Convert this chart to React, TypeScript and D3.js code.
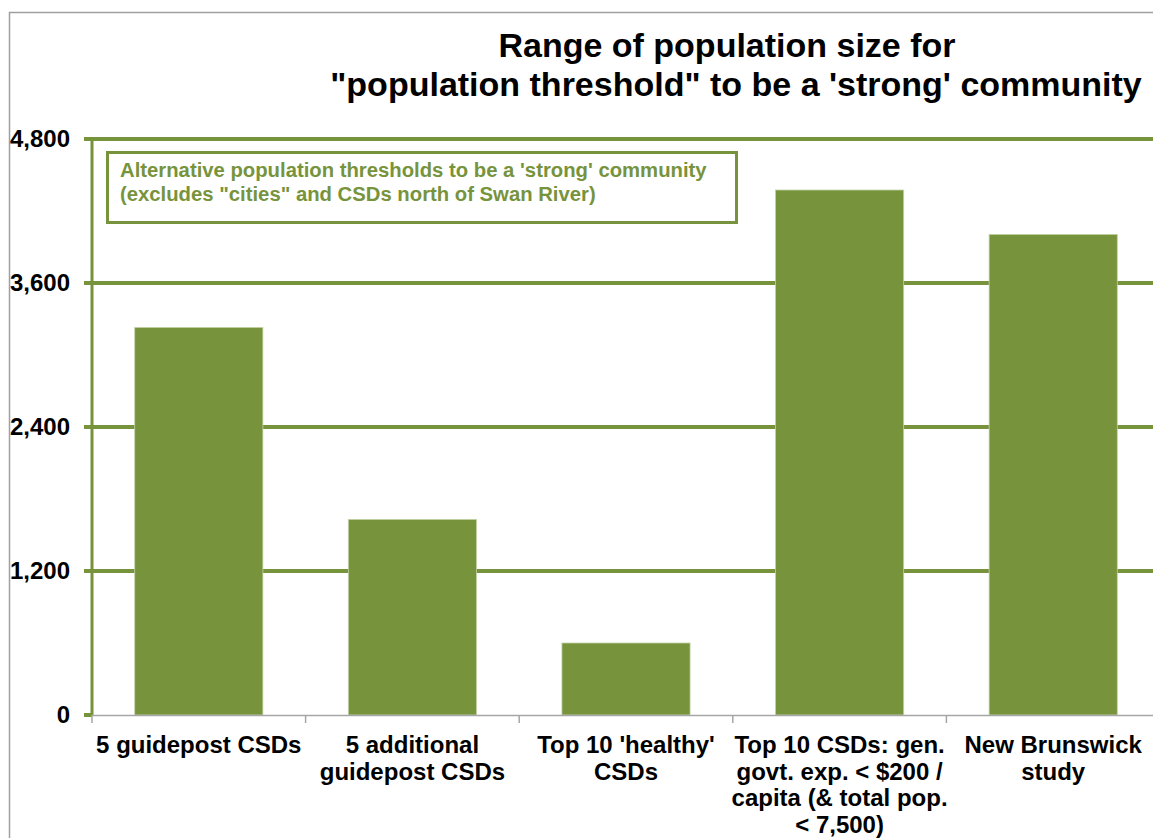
import { useEffect, useRef } from 'react';
import * as d3 from 'd3';

const categories = [
	['5 guidepost CSDs'],
	['5 additional', 'guidepost CSDs'],
	["Top 10 'healthy'", 'CSDs'],
	['Top 10 CSDs: gen.', 'govt. exp. < $200 /', 'capita (& total pop.', '< 7,500)'],
	['New Brunswick', 'study'],
];
const values = [3230, 1630, 600, 4375, 4005];
const yTicks = [0, 1200, 2400, 3600, 4800];
const titleLines = ['Range of population size for', '"population threshold" to be a \'strong\' community'];
const legendLines = [
	"Alternative population thresholds to be a 'strong' community",
	'(excludes "cities" and CSDs north of Swan River)',
];

const WIDTH = 1153;
const HEIGHT = 838;
const GREEN = '#77933C';

export default function App() {
	const svgRef = useRef<SVGSVGElement>(null);

	useEffect(() => {
		if (!svgRef.current) return;
		const svg = d3.select(svgRef.current);
		svg.selectAll('*').remove();

		const font = '"Liberation Sans", Arial, sans-serif';
		const margin = { top: 139, left: 92, bottom: 715, right: 1160 };

		const x = d3
			.scaleBand<number>()
			.domain(d3.range(values.length))
			.range([margin.left, margin.right])
			.paddingInner(0.4)
			.paddingOuter(0.2);
		const band = d3.scaleBand<number>().domain(d3.range(values.length)).range([margin.left, margin.right]);
		const y = d3.scaleLinear().domain([0, 4800]).range([margin.bottom, margin.top]);

		// outer frame
		svg
			.append('rect')
			.attr('x', 9.5)
			.attr('y', 12.5)
			.attr('width', 1300)
			.attr('height', 1000)
			.attr('fill', 'white')
			.attr('stroke', '#A0A0A0')
			.attr('stroke-width', 1.5);

		// title (first line sits a little left, as in the original)
		const title = svg
			.append('text')
			.attr('text-anchor', 'middle')
			.style('font-family', font)
			.style('font-weight', 'bold')
			.style('font-size', '34px')
			.attr('fill', '#000');
		titleLines.forEach((t, i) => {
			title
				.append('tspan')
				.attr('x', i === 0 ? 727 : 736)
				.attr('y', 57 + i * 39)
				.text(t);
		});

		// grid lines
		svg
			.append('g')
			.selectAll('line')
			.data(yTicks.filter((d) => d > 0))
			.join('line')
			.attr('x1', margin.left - 8)
			.attr('x2', WIDTH + 10)
			.attr('y1', (d) => y(d))
			.attr('y2', (d) => y(d))
			.attr('stroke', GREEN)
			.attr('stroke-width', 4);

		// zero tick
		svg
			.append('line')
			.attr('x1', margin.left - 8)
			.attr('x2', margin.left)
			.attr('y1', y(0))
			.attr('y2', y(0))
			.attr('stroke', GREEN)
			.attr('stroke-width', 4);

		// y axis line
		svg
			.append('line')
			.attr('x1', margin.left)
			.attr('x2', margin.left)
			.attr('y1', y(4800) - 2)
			.attr('y2', y(0) + 1)
			.attr('stroke', GREEN)
			.attr('stroke-width', 3);

		// y labels
		svg
			.append('g')
			.selectAll('text')
			.data(yTicks)
			.join('text')
			.attr('x', 70)
			.attr('y', (d) => y(d) + 8)
			.attr('text-anchor', 'end')
			.style('font-family', font)
			.style('font-weight', 'bold')
			.style('font-size', '24px')
			.text((d) => d3.format(',')(d));

		// bars
		svg
			.append('g')
			.selectAll('rect')
			.data(values)
			.join('rect')
			.attr('x', (_, i) => x(i)!)
			.attr('width', x.bandwidth())
			.attr('y', (d) => y(d))
			.attr('height', (d) => y(0) - y(d))
			.attr('fill', GREEN)
			.attr('stroke', '#C4D3A6')
			.attr('stroke-width', 0.8);

		// x axis
		svg
			.append('line')
			.attr('x1', margin.left)
			.attr('x2', WIDTH + 10)
			.attr('y1', y(0) + 0.5)
			.attr('y2', y(0) + 0.5)
			.attr('stroke', '#A6A6A6')
			.attr('stroke-width', 1.5);
		svg
			.append('g')
			.selectAll('line')
			.data(d3.range(values.length + 1))
			.join('line')
			.attr('x1', (i) => margin.left + i * band.bandwidth())
			.attr('x2', (i) => margin.left + i * band.bandwidth())
			.attr('y1', y(0))
			.attr('y2', y(0) + 8)
			.attr('stroke', '#A6A6A6')
			.attr('stroke-width', 1.5);

		// x labels
		const labels = svg
			.append('g')
			.selectAll('text')
			.data(categories)
			.join('text')
			.attr('text-anchor', 'middle')
			.style('font-family', font)
			.style('font-weight', 'bold')
			.style('font-size', '24px');
		labels.each(function (lines, i) {
			const cx = band(i)! + band.bandwidth() / 2;
			d3.select(this)
				.selectAll('tspan')
				.data(lines)
				.join('tspan')
				.attr('x', cx)
				.attr('y', (_, j) => 753 + j * 26.5)
				.text((d) => d);
		});

		// legend box
		svg
			.append('rect')
			.attr('x', 107.5)
			.attr('y', 152.5)
			.attr('width', 629)
			.attr('height', 70)
			.attr('fill', 'white')
			.attr('stroke', GREEN)
			.attr('stroke-width', 3);
		const legend = svg
			.append('text')
			.style('font-family', font)
			.style('font-weight', 'bold')
			.style('font-size', '20.3px')
			.attr('fill', GREEN);
		legendLines.forEach((t, i) => {
			legend.append('tspan').attr('x', 120).attr('y', 177 + i * 24).text(t);
		});
	}, []);

	return (
		<svg
			ref={svgRef}
			width={WIDTH}
			height={HEIGHT}
			style={{ position: 'absolute', left: 0, top: 0, background: 'white' }}
		></svg>
	);
}
